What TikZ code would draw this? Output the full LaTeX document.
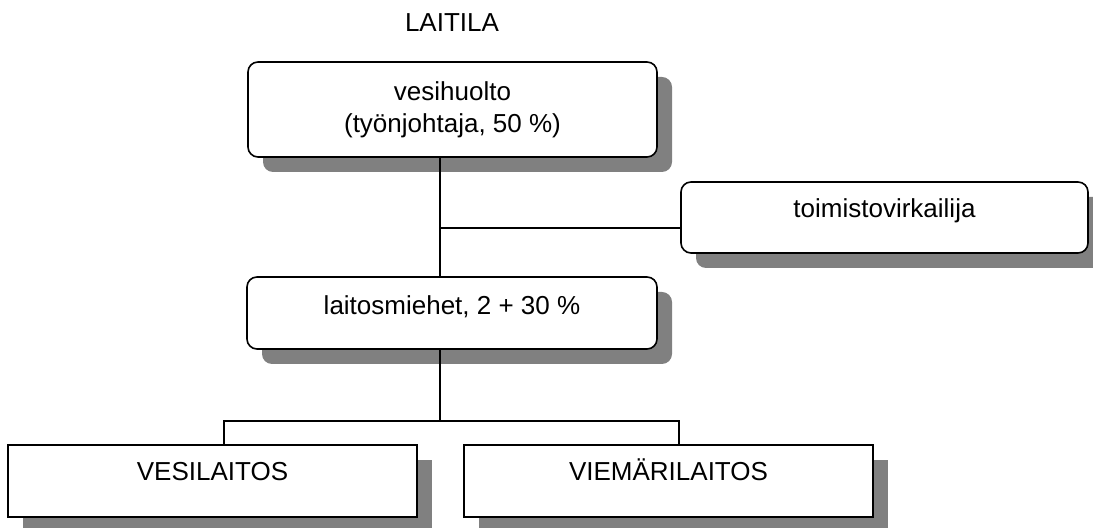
\documentclass[tikz,border=0pt]{standalone}
\usepackage{fontspec}
\setmainfont{Liberation Sans}
\usetikzlibrary{shadows}

\tikzset{
  orgbox/.style={draw, line width=0.8pt, fill=white, inner xsep=0pt, inner ysep=0pt,
    text height=18pt, text depth=18pt, minimum width=204.5pt,
    drop shadow={shadow xshift=7.5pt, shadow yshift=-7.5pt, opacity=1, fill=black!50}},
  roundbox/.style={orgbox, rounded corners=5pt},
  link/.style={line width=0.75pt}
}

\begin{document}
\begin{tikzpicture}[x=0.5pt, y=-0.5pt, font=\fontsize{13}{16}\selectfont]
  \useasboundingbox (0,0) rectangle (1093,528);

  \node (title) at (452,22.5) {LAITILA};

  \node[roundbox, text height=, text depth=, align=center, minimum height=47.5pt] (huolto) at (452.5,109.5)
    {vesihuolto\\(työnjohtaja, 50 \%)};
  \node[roundbox, minimum width=203.5pt, text height=18pt, text depth=17.5pt] (toimisto) at (884.5,217.5)
    {toimistovirkailija};
  \node[roundbox, minimum width=205pt, text height=19pt, text depth=17pt] (miehet) at (452,313)
    {laitosmiehet, 2 + 30 \%};

  \node[orgbox] (vesi) at (212.5,481) {VESILAITOS};
  \node[orgbox] (viemari) at (668.5,481) {VIEMÄRILAITOS};

  % connectors
  \coordinate (junction) at (440,228);
  \coordinate (split) at (440,421);
  \coordinate (leftDrop) at (224,421);
  \coordinate (rightDrop) at (679,421);

  \draw[link] (huolto.south -| junction) -- (miehet.north -| junction);
  \draw[link] (junction) -- (toimisto.west |- junction);
  \draw[link] (miehet.south -| split) -- (split);
  \draw[link] (vesi.north -| leftDrop) -- (leftDrop) -- (rightDrop) -- (viemari.north -| rightDrop);
\end{tikzpicture}
\end{document}
